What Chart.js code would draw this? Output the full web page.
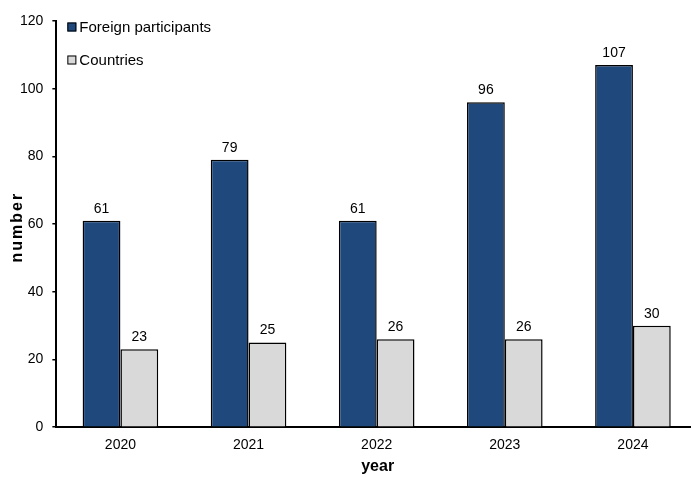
<!DOCTYPE html>
<html>
<head>
<meta charset="utf-8">
<script src="https://cdn.jsdelivr.net/npm/chart.js@4/dist/chart.umd.min.js"></script>
<style>
  html, body { margin: 0; padding: 0; background: #fff; overflow: hidden; }
  #wrap { width: 698px; height: 477px; }
</style>
</head>
<body>
<div id="wrap"><canvas id="myChart1"></canvas></div>
<script>
const years = ["2020", "2021", "2022", "2023", "2024"];
const foreignParticipants = [61, 79, 61, 96, 107];
const countries = [23, 25, 26, 26, 30];
const yTicks = [0, 20, 40, 60, 80, 100, 120];

const FONT = "'Liberation Sans', Arial, sans-serif";
Chart.defaults.font.family = FONT;
Chart.defaults.color = "#000";

// value labels above each bar
const valueLabels = {
  id: "valueLabels",
  afterDatasetsDraw(chart) {
    const ctx = chart.ctx;
    ctx.save();
    ctx.font = "14px " + FONT;
    ctx.fillStyle = "#000";
    ctx.textAlign = "center";
    ctx.textBaseline = "bottom";
    chart.data.datasets.forEach(function (ds, i) {
      chart.getDatasetMeta(i).data.forEach(function (bar, j) {
        ctx.fillText(ds.data[j], bar.x, bar.y - 5);
      });
    });
    ctx.restore();
  },
};

// legend inside the plot (top-left) and axis titles
const extras = {
  id: "extras",
  afterDraw(chart) {
    const ctx = chart.ctx;
    const area = chart.chartArea;
    const left = area.left + 11;
    const top = area.top + 6;
    ctx.save();
    ctx.font = "15px " + FONT;
    ctx.textBaseline = "middle";
    chart.data.datasets.forEach(function (ds, i) {
      const y = top + i * 33;
      ctx.fillStyle = ds.backgroundColor;
      ctx.fillRect(left, y - 4.5, 9, 9);
      ctx.strokeStyle = "#000";
      ctx.lineWidth = 1;
      ctx.strokeRect(left + 0.5, y - 4, 8, 8);
      ctx.fillStyle = "#000";
      ctx.fillText(ds.label, left + 12, y + 1);
    });
    ctx.restore();

    ctx.save();
    ctx.font = "bold 16px " + FONT;
    ctx.fillStyle = "#000";
    ctx.textAlign = "center";
    ctx.textBaseline = "middle";
    ctx.fillText("year", (area.left + area.right) / 2 + 1, 467);
    ctx.translate(18, (area.top + area.bottom) / 2 + 3);
    ctx.rotate(-Math.PI / 2);
    ctx.letterSpacing = "2px";
    ctx.fillText("number", 0, 0);
    ctx.restore();
  },
};

const chart = new Chart(document.getElementById("myChart1").getContext("2d"), {
  type: "bar",
  data: {
    labels: years,
    datasets: [
      {
        label: "Foreign participants",
        data: foreignParticipants,
        backgroundColor: "#1F497D",
        borderColor: "#000",
        borderWidth: 1.5,
        borderSkipped: "bottom",
      },
      {
        label: "Countries",
        data: countries,
        backgroundColor: "#D9D9D9",
        borderColor: "#000",
        borderWidth: 1.5,
        borderSkipped: "bottom",
      },
    ],
  },
  options: {
    responsive: true,
    maintainAspectRatio: false,
    animation: false,
    categoryPercentage: 0.59,
    barPercentage: 1,
    layout: { padding: { top: 21, right: 1, bottom: 13, left: 11 } },
    plugins: { legend: { display: false }, tooltip: { enabled: false } },
    scales: {
      x: {
        grid: { display: false, drawTicks: false },
        border: { color: "#000", width: 2 },
        ticks: { font: { size: 14 }, padding: 10 },
      },
      y: {
        min: yTicks[0],
        max: yTicks[yTicks.length - 1],
        afterBuildTicks(axis) {
          axis.ticks = yTicks.map(function (v) { return { value: v }; });
        },
        grid: { drawOnChartArea: false, color: "#000", tickLength: 4, lineWidth: 1.5 },
        border: { color: "#000", width: 2 },
        ticks: { font: { size: 14 }, padding: 9 },
      },
    },
  },
  plugins: [valueLabels, extras],
});
</script>
</body>
</html>
